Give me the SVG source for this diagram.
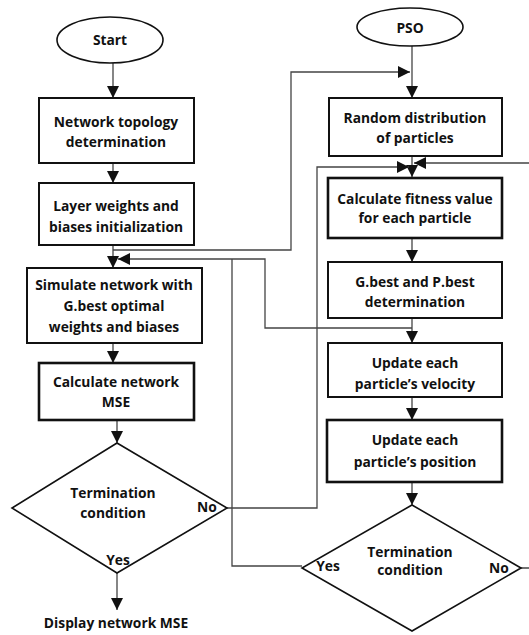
<svg xmlns="http://www.w3.org/2000/svg" width="529" height="635" viewBox="0 0 529 635">
<style>
.box{fill:#fff;stroke:#111;stroke-width:2}
.thick{stroke-width:2.6}
.shape{fill:#fff;stroke:#111;stroke-width:1.6}
.t{font-family:"Open Sans","Liberation Sans",sans-serif;font-weight:700;font-size:13.8px;fill:#111;text-anchor:middle}
.c{fill:none;stroke:#444;stroke-width:1.3}
</style>
<defs>
<marker id="ah" markerUnits="userSpaceOnUse" markerWidth="12" markerHeight="12" viewBox="0 0 12 12" refX="12" refY="6" orient="auto">
<path d="M0,0 L12,6 L0,12 Z" fill="#111"/>
</marker>
</defs>
<rect width="529" height="635" fill="#fff"/>
<g id="connectors">
<path class="c" d="M113,63 V98" marker-end="url(#ah)"/>
<path class="c" d="M113,163 V183" marker-end="url(#ah)"/>
<path class="c" d="M113,245 V268" marker-end="url(#ah)"/>
<path class="c" d="M113,343 V363" marker-end="url(#ah)"/>
<path class="c" d="M117,420 V443" marker-end="url(#ah)"/>
<path class="c" d="M117,573 V610" marker-end="url(#ah)"/>
<path class="c" d="M113,250 H291 V72 H410" marker-end="url(#ah)"/>
<path class="c" d="M412,46 V98" marker-end="url(#ah)"/>
<path class="c" d="M412,156 V177" marker-end="url(#ah)"/>
<path class="c" d="M227,508 H317 V167 H409" marker-end="url(#ah)"/>
<path class="c" d="M521,568 H540 V163 H414" marker-end="url(#ah)"/>
<path class="c" d="M412,238 V262" marker-end="url(#ah)"/>
<path class="c" d="M412,318 V343" marker-end="url(#ah)"/>
<path class="c" d="M412,328 H265 V259 H118" marker-end="url(#ah)"/>
<path class="c" d="M302,566 H232 V259"/>
<path class="c" d="M412,397 V420" marker-end="url(#ah)"/>
<path class="c" d="M412,482 V505" marker-end="url(#ah)"/>
</g>
<g id="start">
<ellipse class="shape" cx="110" cy="40" rx="53" ry="23"/>
<text class="t" x="110" y="45">Start</text>
</g>
<g id="topology">
<rect class="box" x="39" y="98" width="155" height="65"/>
<text class="t" x="116" y="127">Network topology</text>
<text class="t" x="116" y="147">determination</text>
</g>
<g id="init">
<rect class="box" x="39" y="183" width="155" height="62"/>
<text class="t" x="116" y="211">Layer weights and</text>
<text class="t" x="116" y="232">biases initialization</text>
</g>
<g id="simulate">
<rect class="box" x="27" y="268" width="175" height="75"/>
<text class="t" x="114" y="290">Simulate network with</text>
<text class="t" x="114" y="311">G.best optimal</text>
<text class="t" x="114" y="332">weights and biases</text>
</g>
<g id="mse">
<rect class="box thick" x="39" y="363" width="155" height="57"/>
<text class="t" x="116" y="387">Calculate network</text>
<text class="t" x="116" y="407">MSE</text>
</g>
<g id="term1">
<polygon class="shape" points="117,443 227,508 117,573 12,508"/>
<text class="t" x="113" y="498">Termination</text>
<text class="t" x="113" y="518">condition</text>
<text class="t" x="207" y="512">No</text>
<text class="t" x="118" y="565">Yes</text>
</g>
<g id="display">
<text class="t" x="116" y="628">Display network MSE</text>
</g>
<g id="pso">
<ellipse class="shape" cx="410" cy="27" rx="53" ry="19"/>
<text class="t" x="410" y="33">PSO</text>
</g>
<g id="random">
<rect class="box" x="329" y="98" width="173" height="58"/>
<text class="t" x="415" y="123">Random distribution</text>
<text class="t" x="415" y="143">of particles</text>
</g>
<g id="fitness">
<rect class="box thick" x="328" y="178" width="174" height="60"/>
<text class="t" x="415" y="204">Calculate fitness value</text>
<text class="t" x="415" y="223">for each particle</text>
</g>
<g id="gbest">
<rect class="box" x="328" y="262" width="174" height="56"/>
<text class="t" x="415" y="287">G.best and P.best</text>
<text class="t" x="415" y="307">determination</text>
</g>
<g id="velocity">
<rect class="box" x="328" y="343" width="174" height="54"/>
<text class="t" x="415" y="368">Update each</text>
<text class="t" x="415" y="389">particle’s velocity</text>
</g>
<g id="position">
<rect class="box thick" x="327" y="420" width="175" height="62"/>
<text class="t" x="415" y="445">Update each</text>
<text class="t" x="415" y="467">particle’s position</text>
</g>
<g id="term2">
<polygon class="shape" points="412,505 521,568 412,631 302,568"/>
<text class="t" x="410" y="557">Termination</text>
<text class="t" x="410" y="575">condition</text>
<text class="t" x="328" y="571">Yes</text>
<text class="t" x="499" y="573">No</text>
</g>
</svg>
